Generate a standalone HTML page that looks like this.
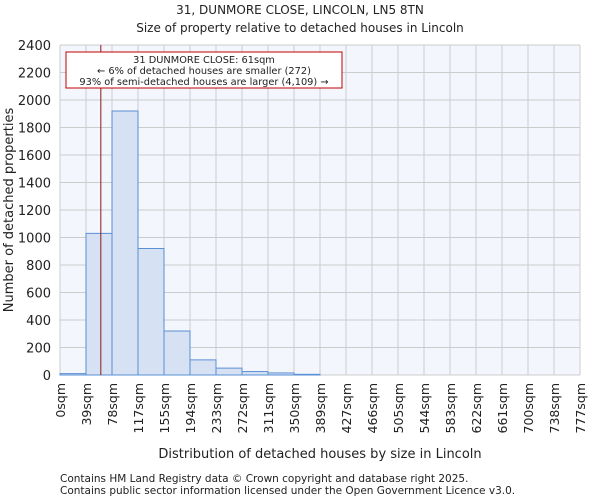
<!DOCTYPE html>
<html><head><meta charset="utf-8"><style>
body{margin:0;background:#fff;font-family:"DejaVu Sans","Liberation Sans",sans-serif}
svg text{font-family:"DejaVu Sans","Liberation Sans",sans-serif;fill:#222}
</style></head><body>
<svg id="c" width="600" height="500"></svg>
<script>
const tickLabels=["0sqm","39sqm","78sqm","117sqm","155sqm","194sqm","233sqm","272sqm","311sqm","350sqm","389sqm","427sqm","466sqm","505sqm","544sqm","583sqm","622sqm","661sqm","700sqm","738sqm","777sqm"];
const counts=[10,1030,1920,920,320,110,50,25,15,5,0,0,0,0,0,0,0,0,0,0];
const yTicks=[0,200,400,600,800,1000,1200,1400,1600,1800,2000,2200,2400];
const markerValue=61;
const xMax=777;
const X0=60,X1=580,Y0=375,Y1=45,YMAX=2400;
const sx=v=>X0+v/xMax*(X1-X0);
const sy=v=>Y0-v/YMAX*(Y0-Y1);
const bw=(X1-X0)/counts.length;
const svg=document.getElementById('c');
const NS='http://www.w3.org/2000/svg';
function mk(t,a,txt){const e=document.createElementNS(NS,t);for(const k in a)e.setAttribute(k,a[k]);if(txt!==undefined)e.textContent=txt;svg.appendChild(e);return e;}
let e;
e=mk('text',{x:300,y:14,'text-anchor':'middle','font-size':12},'31, DUNMORE CLOSE, LINCOLN, LN5 8TN');


e=mk('text',{x:300,y:32,'text-anchor':'middle','font-size':12},'Size of property relative to detached houses in Lincoln');


e=mk('rect',{x:X0,y:Y1,width:X1-X0,height:Y0-Y1,fill:'#f3f6fc'});


for(let i=0;i<=counts.length;i++){const x=X0+i*bw;e=mk('line',{x1:x,x2:x,y1:Y1,y2:Y0,stroke:'#cccccc','stroke-width':1});

}
yTicks.forEach(v=>{e=mk('line',{x1:X0,x2:X1,y1:sy(v),y2:sy(v),stroke:'#cccccc','stroke-width':1});


e=mk('text',{x:X0-9,y:sy(v)+5,'text-anchor':'end','font-size':13},String(v));

});
counts.forEach((c,i)=>{if(c<=0)return;e=mk('rect',{x:X0+i*bw,y:sy(c),width:bw,height:Y0-sy(c),fill:'#d6e2f3',stroke:'#5b8fd6','stroke-width':1});

});
tickLabels.forEach((t,i)=>{const x=X0+i*bw;e=mk('text',{x:0,y:0,'text-anchor':'end','font-size':12.5,transform:`translate(${x+5},${Y0+8}) rotate(-90)`},t);

});
const mx=sx(markerValue);
e=mk('line',{x1:mx,x2:mx,y1:Y1,y2:Y0,stroke:'#8b1a1a','stroke-width':1});


e=mk('rect',{x:66,y:52,width:276,height:36,fill:'#fff',stroke:'#c00000','stroke-width':1});


[['31 DUNMORE CLOSE: 61sqm',64],['← 6% of detached houses are smaller (272)',75],['93% of semi-detached houses are larger (4,109) →',86]].forEach(([t,y])=>{e=mk('text',{x:204,y:y-1,'text-anchor':'middle','font-size':9.8},t);

});
e=mk('text',{x:0,y:0,'text-anchor':'middle','font-size':13,transform:'translate(13,210) rotate(-90)'},'Number of detached properties');


e=mk('text',{x:320,y:458,'text-anchor':'middle','font-size':13},'Distribution of detached houses by size in Lincoln');


e=mk('text',{x:60,y:482,'font-size':10.5,fill:'#444'},'Contains HM Land Registry data © Crown copyright and database right 2025.');


e=mk('text',{x:60,y:494,'font-size':10.5,fill:'#444'},'Contains public sector information licensed under the Open Government Licence v3.0.');


</script>
</body></html>
